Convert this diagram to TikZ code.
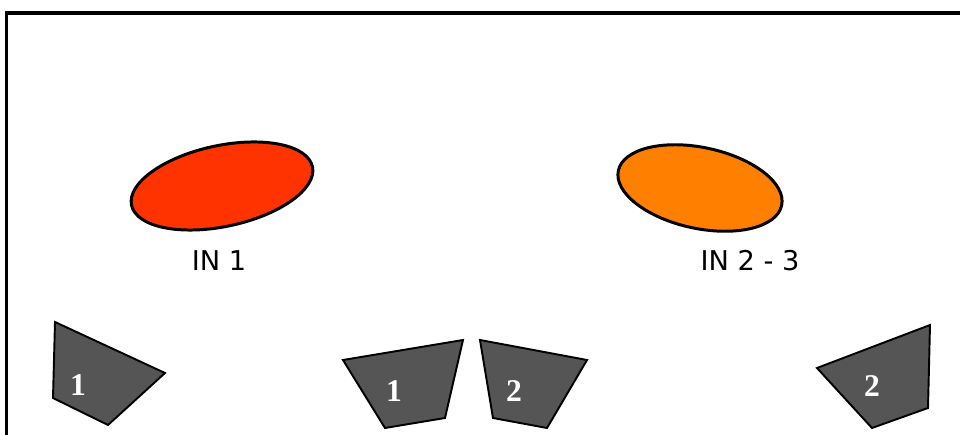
\documentclass[tikz,border=0pt]{standalone}
\usepackage{fontspec}
\setmainfont{Liberation Serif}
\setsansfont{DejaVu Sans}
\usetikzlibrary{shapes.geometric}
\usetikzlibrary{positioning}
\definecolor{inred}{HTML}{FF3300}
\definecolor{inorange}{HTML}{FF8000}
\definecolor{seatgrey}{HTML}{555555}
\tikzstyle{input} = [
    ellipse, draw=black, line width=1.7pt, inner sep=0pt,
    minimum width=3.7cm, minimum height=1.62cm]
\tikzstyle{inlabel} = [font=\sffamily\fontsize{15.5}{18}\selectfont, text=black]
\tikzstyle{seat} = [draw=black, line width=1.1pt, fill=seatgrey, line join=miter]
\tikzstyle{seatnum} = [font=\rmfamily\bfseries\fontsize{18}{21}\selectfont, text=white]

\begin{document}
\begin{tikzpicture}[x=0.02cm, y=-0.02cm]
\clip (0,0) rectangle (960,435);
\useasboundingbox (0,0) rectangle (960,435);
% frame
\draw[line width=2pt] (6.5,13) rectangle (985,465);

% inputs
\node (in1) [input, fill=inred, rotate=12] at (222,186) {};
\node (in23) [input, fill=inorange, rotate=-12, minimum width=3.34cm] at (700,188) {};
\node (lbl1) [inlabel] at (219,261) {IN 1};
\node (lbl23) [inlabel] at (750,261) {IN 2 - 3};

% seats
\draw[seat] (55,322) -- (165,373) -- (108,425) -- (53,398) -- cycle;
\node (seat1a) [seatnum] at (78,385) {1};
\draw[seat] (343,360) -- (463,340) -- (445,418) -- (385,428) -- cycle;
\node (seat1b) [seatnum] at (394,391) {1};
\draw[seat] (480,340) -- (587,360) -- (547,428) -- (493,418) -- cycle;
\node (seat2a) [seatnum] at (514,391) {2};
\draw[seat] (817,368) -- (930,325) -- (928,408) -- (872,428) -- cycle;
\node (seat2b) [seatnum] at (872,386) {2};
\end{tikzpicture}
\end{document}
